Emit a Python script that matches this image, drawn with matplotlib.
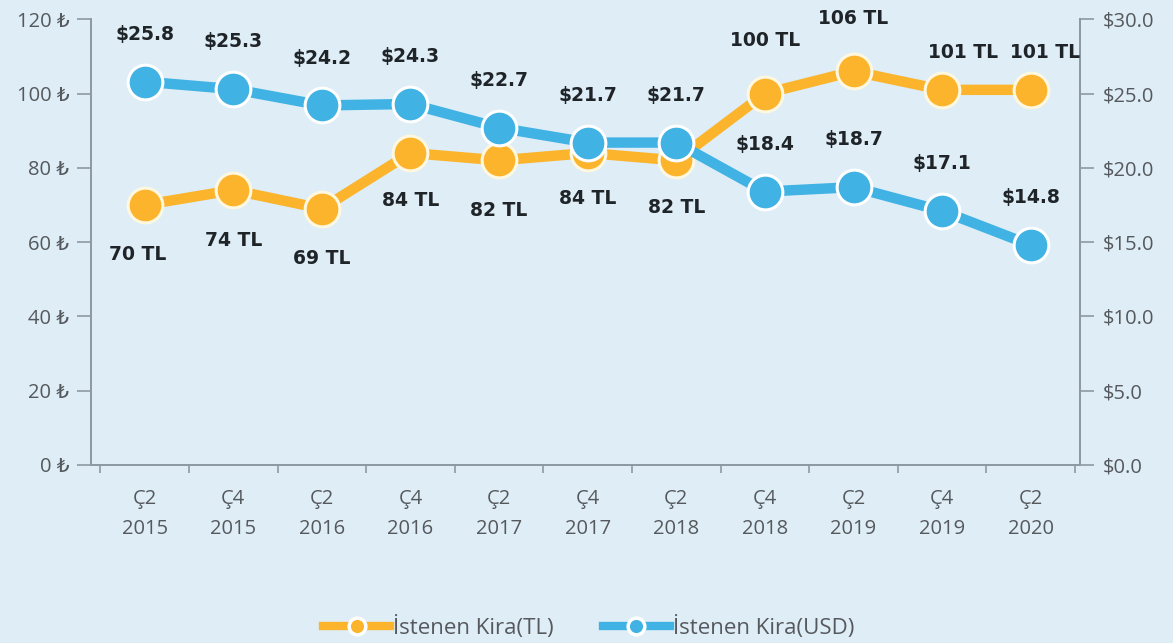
import matplotlib
matplotlib.use("Agg")
import matplotlib.pyplot as plt
from matplotlib.ticker import FixedLocator, NullFormatter
from matplotlib.lines import Line2D

plt.rcParams['font.family'] = ['Open Sans', 'DejaVu Sans']

categories = ["Ç2\n2015", "Ç4\n2015", "Ç2\n2016", "Ç4\n2016", "Ç2\n2017", "Ç4\n2017",
              "Ç2\n2018", "Ç4\n2018", "Ç2\n2019", "Ç4\n2019", "Ç2\n2020"]
rent_tl = [70, 74, 69, 84, 82, 84, 82, 100, 106, 101, 101]
rent_usd = [25.8, 25.3, 24.2, 24.3, 22.7, 21.7, 21.7, 18.4, 18.7, 17.1, 14.8]
tl_ticks = [0, 20, 40, 60, 80, 100, 120]
usd_ticks = [0, 5, 10, 15, 20, 25, 30]
series_names = ["İstenen Kira(TL)", "İstenen Kira(USD)"]

BG = "#deedf6"
ORANGE = "#fbb42c"
BLUE = "#40b2e3"
AXC = "#8d99a3"
TXT = "#55595d"
LBL = "#1f2428"

fig = plt.figure(figsize=(11.73, 6.43), dpi=100, facecolor=BG)
ax = fig.add_axes([0.078, 0.277, 0.843, 0.693])
ax.set_facecolor(BG)
ax2 = ax.twinx()
ax2.set_zorder(ax.get_zorder() - 1)
ax.patch.set_visible(False)
ax2.patch.set_facecolor(BG)

x = list(range(len(categories)))
ax.set_ylim(0, 120)
ax2.set_ylim(0, 30)
ax.set_xlim(-0.6, 10.56)

# TL series
ax.plot(x, rent_tl, color=ORANGE, lw=7.5, marker='o', ms=25, mfc=ORANGE,
        mec="#fff8e0", mew=2.2, zorder=3, solid_capstyle='butt')
# USD series: right-axis values mapped onto the primary axes so the line sits on top
usd_to_tl = ax.get_ylim()[1] / ax2.get_ylim()[1]
usd_scaled = [v * usd_to_tl for v in rent_usd]
ax.plot(x, usd_scaled, color=BLUE, lw=7.5, marker='o', ms=25,
        mfc=BLUE, mec="white", mew=2.2, zorder=4, solid_capstyle='butt')

lab_kw = dict(textcoords="offset points", ha="center", va="center", fontsize=13.5,
              fontweight="bold", color=LBL, zorder=6, family="DejaVu Sans")
tl_offsets = [(-5, -36), (0, -36), (0, -36), (0, -34), (0, -36), (0, -33),
              (0, -34), (0, 38), (0, 38), (15, 27), (10, 27)]
for xi, v, off in zip(x, rent_tl, tl_offsets):
    ax.annotate(f"{v} TL", (xi, v), xytext=off, **lab_kw)
for xi, v, vs in zip(x, rent_usd, usd_scaled):
    ax.annotate(f"${v:.1f}", (xi, vs), xytext=(0, 34), **lab_kw)

for a in (ax, ax2):
    a.spines['top'].set_visible(False)
    for s in ('left', 'right', 'bottom'):
        a.spines[s].set_color(AXC)
        a.spines[s].set_linewidth(1.3)

ax.set_yticks(tl_ticks)
ax.set_yticklabels([f"{t} ₺" for t in tl_ticks])
ax2.set_yticks(usd_ticks)
ax2.set_yticklabels([f"${t:.1f}" for t in usd_ticks])
ax.tick_params(axis='y', colors=AXC, labelcolor=TXT, labelsize=14.5, length=10, width=1.2, pad=6)
ax2.tick_params(axis='y', colors=AXC, labelcolor=TXT, labelsize=14.5, length=10, width=1.2, pad=6)

ax.set_xticks(x)
ax.set_xticklabels(categories, color=TXT, fontsize=14.5, linespacing=1.7)
ax.tick_params(axis='x', length=0, pad=17)
ax.xaxis.set_minor_locator(FixedLocator([i + 0.5 for i in range(-1, len(categories))]))
ax.tick_params(axis='x', which='minor', length=6, width=1.2, color=AXC)
ax.xaxis.set_minor_formatter(NullFormatter())

h1 = Line2D([], [], color=ORANGE, lw=6, marker='o', ms=12, mfc=ORANGE, mec="white", mew=2.5)
h2 = Line2D([], [], color=BLUE, lw=6, marker='o', ms=12, mfc=BLUE, mec="white", mew=2.5)
fig.legend([h1, h2], series_names, loc='center', bbox_to_anchor=(0.502, 0.024), ncol=2,
           frameon=False, fontsize=16, labelcolor=TXT, handlelength=3.0,
           handletextpad=0.15, columnspacing=2.2)

fig.savefig("out.png", dpi=100, facecolor=BG)
